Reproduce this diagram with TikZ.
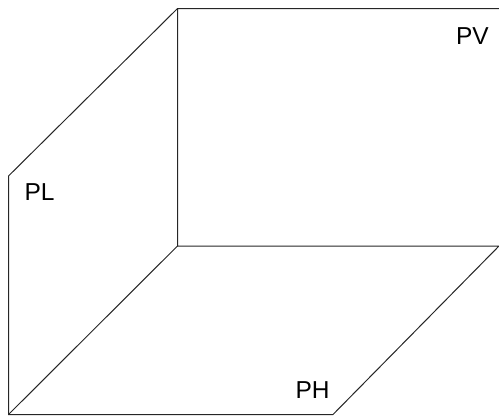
\documentclass[tikz,border=0pt]{standalone}
\usepackage{fontspec}
\setmainfont{Liberation Sans}
\tikzset{
  edge/.style={draw=black!85,line width=1pt,line cap=round},
  lbl/.style={inner sep=0pt,outer sep=0pt,anchor=base west,font=\fontsize{24.5}{24.5}\selectfont,text=black}
}
\begin{document}
\begin{tikzpicture}[x=1pt,y=-1pt]
\useasboundingbox (0,0) rectangle (499,418);
\coordinate (TL) at (177.5,8.5);
\coordinate (TR) at (499,8.5);
\coordinate (LT) at (8.5,176);
\coordinate (LB) at (8.5,414.5);
\coordinate (IN) at (177.5,246);
\coordinate (RI) at (499,246);
\coordinate (BR) at (333,414.5);
\draw[edge] (TR) -- (TL) -- (LT) -- (LB) -- (BR) -- (RI) -- (IN) -- (TL);
\draw[edge] (IN) -- (LB);
\node[lbl] (pv) at (456,44) {PV};
\node[lbl] (pl) at (24.5,200.5) {PL};
\node[lbl] (ph) at (295.5,398.5) {PH};
\end{tikzpicture}
\end{document}
